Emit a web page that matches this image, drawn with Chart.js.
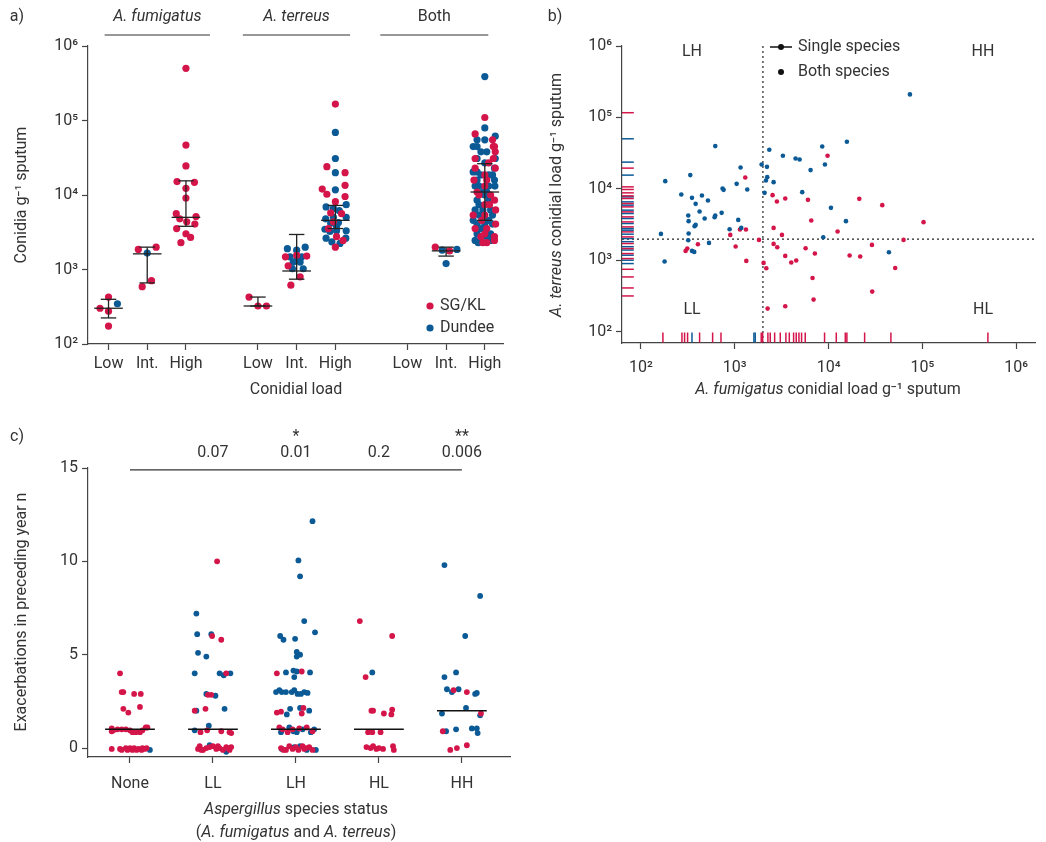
<!DOCTYPE html>
<html><head><meta charset="utf-8">
<script src="https://cdn.jsdelivr.net/npm/chart.js@4.4.1/dist/chart.umd.min.js"></script>
<style>
body{margin:0;background:#fff;width:1046px;height:842px;position:relative;overflow:hidden}
canvas{position:absolute}
</style></head><body>
<canvas id="ca" width="520" height="400" style="left:0;top:0"></canvas>
<canvas id="cb" width="506" height="400" style="left:540px;top:0"></canvas>
<canvas id="cc" width="520" height="422" style="left:0;top:420px"></canvas>
<script>
// ---------- shared ----------
const RED = '#d4154a', BLUE = '#0b5a96', INK = '#333';
const FONT = 'Roboto';
const SUP = ['⁰','¹','²','³','⁴','⁵','⁶'];

// ---------- panel a data (log10 conidia g-1, [dx, exponent]) ----------
const aPos = [1, 2, 3, 4.86, 5.86, 6.86, 8.72, 9.72, 10.72];
const aTickLabels = ['Low','Int.','High','Low','Int.','High','Low','Int.','High'];
const aHeaders = ['A. fumigatus', 'A. terreus', 'Both'];
const aHeaderSpan = [[0.9, 3.62], [4.47, 7.24], [8.02, 10.81]];
const aRed = [
  [[0,2.63],[-0.22,2.48],[0,2.44],[0,2.24]],
  [[-0.23,3.27],[0.23,3.30],[-0.13,2.77],[0.11,2.85]],
  [[0,5.70],[0,4.67],[0,4.39],[-0.23,4.18],[0.22,4.17],[0,4.09],[0,3.96],[-0.25,3.75],[-0.16,3.68],
   [0.02,3.64],[0.26,3.71],[0.23,3.61],[-0.24,3.55],[0,3.48],[0.12,3.43],[-0.13,3.36]],
  [[-0.23,2.63],[0,2.51],[0.22,2.51]],
  [[-0.29,3.17],[0.26,3.18],[-0.22,3.05],[0.09,2.90],[-0.15,2.79],[0,3.19]],
  [[0,5.22],[-0.22,4.38],[0.25,4.30],[0.25,4.13],[-0.34,4.08],[-0.22,4.01],[0.25,3.98],[0,3.91],
   [-0.12,3.76],[0.16,3.75],[-0.18,3.55],[0.03,3.44],[0,3.30],[0.2,3.39],[-0.05,3.64]],
  [],
  [[-0.28,3.30],[0.09,3.25]],
  [[0,5.04],[-0.25,4.82],[0.2,4.74],[0.25,4.65],[0.22,4.65],[0.27,4.58],[-0.25,4.49],[0.22,4.49],[0.1,4.43],
   [-0.25,4.36],[0.27,4.36],[0,4.27],[0.05,4.20],[-0.28,4.20],[0,4.12],[-0.2,4.04],[0.15,4.00],[-0.15,4.00],
   [0.25,3.93],[0,3.87],[0.12,3.87],[0.28,3.80],[0,3.73],[-0.3,3.73],[-0.08,3.66],[0.28,3.61],[-0.25,3.55],
   [0.05,3.55],[0,3.48],[-0.1,3.44],[0.25,3.44],[0.25,3.39],[-0.05,3.36],[0.05,3.36]]
];
const aBlue = [
  [[0.23,2.54]],
  [[0,3.22]],
  [],
  [],
  [[-0.24,3.28],[0,3.26],[0.22,3.30],[-0.17,3.17],[0.13,3.17],[-0.09,3.10],[0.09,3.10],[-0.11,3.01],[0.17,3.01],[0,3.12]],
  [[0,4.84],[0,4.49],[0,4.30],[0,4.07],[-0.24,3.84],[-0.05,3.82],[0.28,3.87],[0.1,3.79],[-0.25,3.68],[-0.05,3.70],
   [0.28,3.70],[-0.12,3.62],[0.08,3.63],[-0.27,3.54],[-0.14,3.51],[0.03,3.52],[0.28,3.52],[-0.24,3.42],[-0.09,3.37],
   [0.12,3.35],[0.27,3.42],[0.03,3.58]],
  [],
  [[-0.1,3.26],[0.28,3.27],[0,3.08]],
  [[0,5.59],[0,4.90],[0.27,4.79],[-0.2,4.74],[0,4.74],[-0.3,4.65],[-0.2,4.65],[-0.1,4.58],[0.05,4.58],[-0.2,4.49],
   [0.27,4.49],[0,4.43],[0.25,4.36],[-0.3,4.31],[-0.2,4.31],[-0.1,4.27],[0.1,4.27],[0.2,4.27],[-0.2,4.20],[0.25,4.20],
   [-0.25,4.12],[-0.15,4.12],[0.1,4.12],[0.26,4.12],[-0.05,4.04],[0.05,4.04],[0,4.00],[-0.2,3.93],[0.1,3.93],[-0.15,3.87],
   [-0.25,3.80],[-0.05,3.80],[0.15,3.80],[-0.15,3.73],[0.2,3.73],[-0.3,3.66],[0.1,3.66],[-0.2,3.61],[0,3.61],[0.2,3.61],
   [-0.1,3.55],[-0.2,3.48],[0.15,3.48],[0.05,3.44],[-0.25,3.39],[0.15,3.39],[-0.17,3.36]]
];
const aMed = [2.48, 3.21, 3.70, 2.51, 2.98, 3.66, null, 3.25, 4.04];
const aLo  = [2.35, 2.82, 3.58, 2.51, 2.87, 3.55, null, 3.18, 3.66];
const aHi  = [2.60, 3.30, 4.19, 2.63, 3.47, 3.86, null, 3.30, 4.42];

// ---------- panel b data (log10 conidial load) ----------
const bBlueFum = [2.213,2.259,2.252,2.430,2.526,2.544,2.583,2.504,2.508,2.508,2.504,2.625,2.650,2.679,2.714,2.572,2.583,2.544,2.568,
  2.792,2.870,2.881,2.785,2.792,2.860,2.725,2.945,3.020,3.037,3.062,3.133,3.069,3.286,3.343,3.346,3.332,3.318,3.368,3.414,
  3.513,3.648,3.691,3.719,3.808,3.932,3.961,4.025,4.195,4.185,3.943,4.643,4.867];
const bBlueTer = [3.372,4.110,2.985,3.923,4.194,3.876,3.792,3.629,3.550,3.377,3.284,3.685,3.909,3.587,3.839,3.480,3.498,3.134,3.120,
  4.600,4.007,3.988,3.606,3.629,3.666,3.246,3.438,4.072,3.568,4.301,3.993,3.456,4.343,4.310,4.166,4.119,3.946,4.548,4.096,
  4.464,4.427,4.413,3.956,4.264,4.595,4.343,3.736,4.660,3.550,3.326,3.116,5.323];
const bRedFum = [3.112,3.403,3.449,3.538,3.780,3.989,3.815,3.414,3.503,3.119,3.055,2.952,2.607,2.494,2.476,3.009,3.258,3.414,3.453,
  3.755,3.854,3.538,3.655,3.602,3.123,3.307,3.336,3.829,3.840,3.350,3.538,4.327,4.572,5.012,4.096,4.799,4.462,4.224,4.337,4.710,4.465];
const bRedTer = [4.161,3.914,3.825,3.867,3.848,4.464,3.559,3.456,3.358,3.433,3.433,3.358,3.228,3.167,3.134,3.195,3.288,3.232,3.186,
  3.172,3.097,3.064,2.999,2.971,2.994,2.966,2.892,2.756,2.453,2.327,2.359,3.862,3.774,3.536,3.405,3.288,3.218,3.069,3.055,2.896,2.565];
const bRugTerRed = [5.067,4.292,4.030,3.993,3.946,3.904,3.867,3.797,3.750,3.680,3.610,3.540,3.470,3.400,3.330,3.237,3.167,3.097,3.027,2.877,2.770,2.616,2.504];
const bRugTerBlue = [4.702,4.376,4.194,3.890,3.820,3.774,3.704,3.657,3.587,3.517,3.447,3.424,3.368,3.307,3.263,3.193,3.146,3.074,3.004,2.957];
const bRugFumRed = [2.234,2.437,2.465,2.497,2.625,2.764,2.853,3.282,3.297,3.353,3.378,3.425,3.485,3.545,3.581,3.627,3.655,3.684,3.712,3.751,3.957,4.082,4.178,4.195,4.384,4.664,5.698];
const bRugFumBlue = [2.544,3.204,3.218];
const bCut = 3.3;
const bQuad = [['LH',692,52],['HH',983,52],['LL',692,310],['HL',983,310]];

// ---------- panel c data (exacerbations, [dx, n]) ----------
const cCats = ['None','LL','LH','HL','HH'];
const cRed = [
  [[-0.12,4.0],[-0.10,3.0],[-0.08,3.0],[0.05,2.9],[0.13,2.9],[-0.08,2.1],[0.12,2.2],[-0.02,1.9],
   [-0.22,1.05],[-0.22,0.9],[-0.15,1.0],[-0.1,1.0],[-0.05,1.0],[0,0.95],[0.03,0.85],[0.07,0.85],[0.12,0.85],
   [0.15,0.95],[0.19,1.1],[0.21,1.1],[-0.2,0.95],[-0.22,-0.05],[-0.12,-0.05],[-0.1,-0.1],[-0.05,0],[0,0],
   [0.03,-0.1],[0.05,0],[0.08,-0.1],[0.1,-0.05],[0.14,-0.1],[0.18,-0.05],[0.2,0],[-0.03,-0.1],[0.15,0]],
  [[0.05,10],[-0.01,6.0],[0.1,5.8],[0.16,4.0],[-0.06,2.85],[-0.02,2.85],[-0.09,2.1],[-0.22,2.0],
   [-0.15,0.85],[-0.07,0.95],[0.1,0.9],[0.2,0.85],[0.22,0.8],[-0.18,-0.05],[-0.16,0.1],[-0.12,-0.1],[-0.08,0],
   [-0.04,0.05],[0,0.1],[0.04,-0.05],[0.08,0],[0.12,-0.1],[0.16,0.05],[0.2,-0.1],[0.22,0.05],[-0.14,-0.1],[0.06,0.1],[0.18,0]],
  [[-0.23,4.0],[0.07,4.1],[-0.23,1.9],[-0.18,1.95],[0.07,1.85],[0.09,2.15],[-0.2,1.1],[-0.16,1.0],[-0.1,0.85],
   [-0.04,1.0],[0.04,1.05],[0.13,1.1],[0.2,0.9],[-0.18,0],[-0.12,-0.1],[-0.08,0.1],[-0.04,-0.05],[0,0.05],
   [0.03,-0.1],[0.08,0.1],[0.12,0],[0.16,0.05],[0.2,-0.1],[-0.15,-0.1],[0.1,-0.05]],
  [[-0.23,6.8],[0.16,6.0],[-0.16,3.8],[-0.09,2.0],[-0.07,2.0],[0.06,1.85],[0.16,2.05],[0.15,1.8],
   [-0.13,0.85],[-0.08,0.85],[0.02,0.85],[-0.15,0.05],[-0.1,0],[-0.07,0.1],[-0.03,-0.05],[0,0],[0.05,-0.05],[0.17,0.1],[0.18,-0.1]],
  [[-0.1,3.1],[0.06,3.0],[0.23,1.85],[-0.23,0.9],[-0.14,-0.1],[-0.06,0],[0.06,0.15]]
];
const cBlue = [
  [[0.24,-0.1]],
  [[-0.2,7.2],[-0.19,6.1],[-0.02,6.1],[-0.18,5.1],[-0.08,4.9],[-0.22,4.0],[0.08,4.0],[0.13,3.9],[0.21,4.0],
   [-0.08,2.9],[0.03,2.8],[0.14,2.1],[-0.2,2.0],[-0.22,0.95],[-0.05,1.2],[-0.04,0.15],[0.16,-0.2]],
  [[0.2,12.15],[0.03,10.05],[0.05,9.2],[0.1,6.8],[0.23,6.2],[-0.19,6.0],[-0.15,5.8],[-0.01,5.85],[0.01,5.15],
   [0.01,4.9],[0.05,5.0],[-0.12,4.05],[-0.03,4.15],[0.01,4.1],[-0.02,3.8],[0.17,4.05],[-0.24,3.0],[-0.2,3.1],
   [-0.17,3.0],[-0.12,3.0],[-0.05,3.0],[-0.02,3.1],[0.02,2.9],[0.06,2.9],[0.1,3.0],[0.14,2.95],[-0.07,2.1],
   [0.05,2.15],[0.16,2.0],[-0.11,1.8],[-0.18,0.85],[-0.08,1.1],[-0.03,0.9],[0.01,0.85],[0.08,1.0],[0.18,0.85],
   [0.22,1.0],[-0.17,-0.05],[0.05,0.1],[0.13,-0.1],[0.24,-0.1],[-0.02,0.05]],
  [[-0.08,4.05]],
  [[-0.21,9.8],[0.22,8.15],[0.04,6.0],[-0.21,3.8],[-0.07,4.05],[-0.18,3.15],[-0.12,3.0],[-0.04,3.15],[0.16,2.9],
   [0.18,2.95],[0.05,2.15],[-0.24,1.85],[0.22,1.75],[-0.19,0.9],[-0.07,1.0],[0.12,1.05],[0.18,1.05],[0.19,0.8]]
];
const cMedian = [1, 1, 1, 1, 2];
const cPvals = ['', '0.07', '0.01', '0.2', '0.006'];
const cStars = ['', '', '*', '', '**'];

// ---------- helpers ----------
function rich(ctx, parts, x, y, rot, size) {
  size = size || 16;
  ctx.save();
  ctx.translate(x, y);
  if (rot) ctx.rotate(-Math.PI / 2);
  ctx.fillStyle = INK;
  ctx.textBaseline = 'middle';
  ctx.textAlign = 'left';
  let w = 0;
  parts.forEach(p => { ctx.font = (p[1] ? 'italic ' : '') + size + 'px ' + FONT; w += ctx.measureText(p[0]).width; });
  let cx = -w / 2;
  parts.forEach(p => {
    ctx.font = (p[1] ? 'italic ' : '') + size + 'px ' + FONT;
    ctx.fillText(p[0], cx, 0);
    cx += ctx.measureText(p[0]).width;
  });
  ctx.restore();
}
function pts(groups, pos) {
  const out = [];
  groups.forEach((g, i) => g.forEach(p => out.push({ x: pos[i] + p[0], y: p[1] })));
  return out;
}
function axisBase(min, max, ticks, label, pad) {
  return {
    type: 'linear', min, max,
    afterBuildTicks: s => { s.ticks = ticks.map(v => ({ value: v })); },
    ticks: { color: INK, font: { family: FONT, size: 16 }, callback: (v, i) => label(v, i), autoSkip: false, maxRotation: 0, padding: pad || 4 },
    grid: { drawOnChartArea: false, color: '#444', tickLength: 6, tickWidth: 1.2 },
    border: { color: '#444', width: 1.2 }
  };
}
const powLabel = v => '10' + SUP[Math.round(v)];
const baseOpts = { responsive: false, animation: false, events: [],
  plugins: { legend: { display: false }, tooltip: { enabled: false } } };

// ---------- panel a ----------
const aX = axisBase(0.47, 11.19, aPos, (v, i) => aTickLabels[i]);
aX.afterFit = s => { s.height = 56; };
const aY = axisBase(2, 6, [2, 3, 4, 5, 6], powLabel);
aY.afterFit = s => { s.width = 88; };

const aExtras = {
  id: 'aExtras',
  afterDatasetsDraw(chart) {
    const { ctx, scales: { x, y } } = chart;
    ctx.save();
    ctx.strokeStyle = '#222';
    ctx.lineWidth = 1.3;
    aPos.forEach((p, i) => {
      if (aMed[i] === null) return;
      const px = x.getPixelForValue(p);
      const line = (a, b, yy) => { ctx.beginPath(); ctx.moveTo(x.getPixelForValue(p - a), y.getPixelForValue(yy)); ctx.lineTo(x.getPixelForValue(p + b), y.getPixelForValue(yy)); ctx.stroke(); };
      ctx.beginPath(); ctx.moveTo(px, y.getPixelForValue(aLo[i])); ctx.lineTo(px, y.getPixelForValue(aHi[i])); ctx.stroke();
      line(0.37, 0.37, aMed[i]);
      line(0.2, 0.2, aLo[i]);
      line(0.2, 0.2, aHi[i]);
    });
    // group headers
    aHeaders.forEach((h, i) => {
      const x0 = x.getPixelForValue(aHeaderSpan[i][0]), x1 = x.getPixelForValue(aHeaderSpan[i][1]);
      ctx.strokeStyle = '#333'; ctx.lineWidth = 1.2;
      ctx.beginPath(); ctx.moveTo(x0, 35); ctx.lineTo(x1, 35); ctx.stroke();
      rich(ctx, [[h, i < 2]], (x0 + x1) / 2, 17);
    });
    // legend
    [['SG/KL', RED, 306], ['Dundee', BLUE, 328]].forEach(l => {
      ctx.fillStyle = l[1];
      ctx.beginPath(); ctx.arc(430, l[2], 3.6, 0, Math.PI * 2); ctx.fill();
      ctx.fillStyle = INK; ctx.font = '16px ' + FONT; ctx.textBaseline = 'middle'; ctx.textAlign = 'left';
      ctx.fillText(l[0], 440, l[2]);
    });
    rich(ctx, [['a)']], 17, 17);
    rich(ctx, [['Conidia g⁻¹ sputum']], 22, 195, true);
    rich(ctx, [['Conidial load']], 296, 390);
    ctx.restore();
  }
};

new Chart(document.getElementById('ca'), {
  type: 'scatter',
  data: { datasets: [
    { data: pts(aRed, aPos), backgroundColor: RED, borderWidth: 0, pointRadius: 3.6 },
    { data: pts(aBlue, aPos), backgroundColor: BLUE, borderWidth: 0, pointRadius: 3.6 }
  ] },
  options: { ...baseOpts, layout: { padding: { top: 46, right: 17, bottom: 0, left: 0 } },
    scales: { x: aX, y: aY } },
  plugins: [aExtras]
});

// ---------- panel b ----------
const bX = axisBase(1.798, 6.2, [2, 3, 4, 5, 6], powLabel, 9);
bX.afterFit = s => { s.height = 57; };
const bY = axisBase(1.846, 6, [2, 3, 4, 5, 6], powLabel);
bY.afterFit = s => { s.width = 82; };

const bExtras = {
  id: 'bExtras',
  beforeDatasetsDraw(chart) {
    const { ctx, chartArea: a, scales: { x, y } } = chart;
    ctx.save();
    ctx.strokeStyle = '#222'; ctx.lineWidth = 1.2; ctx.setLineDash([2, 3]);
    const vx = x.getPixelForValue(bCut), hy = y.getPixelForValue(bCut);
    ctx.beginPath(); ctx.moveTo(vx, a.bottom); ctx.lineTo(vx, a.top); ctx.stroke();
    ctx.beginPath(); ctx.moveTo(a.left, hy); ctx.lineTo(a.right, hy); ctx.stroke();
    ctx.restore();
  },
  afterDatasetsDraw(chart) {
    const { ctx } = chart;
    ctx.save();
    bQuad.forEach(q => rich(ctx, [[q[0]]], q[1] - 540, q[2]));
    ctx.strokeStyle = '#111'; ctx.fillStyle = '#111'; ctx.lineWidth = 1.5;
    ctx.beginPath(); ctx.moveTo(770 - 540, 47); ctx.lineTo(792 - 540, 47); ctx.stroke();
    ctx.beginPath(); ctx.arc(781 - 540, 47, 3, 0, Math.PI * 2); ctx.fill();
    ctx.beginPath(); ctx.arc(781 - 540, 72, 3, 0, Math.PI * 2); ctx.fill();
    ctx.font = '16px ' + FONT; ctx.textAlign = 'left'; ctx.textBaseline = 'middle'; ctx.fillStyle = INK;
    ctx.fillText('Single species', 798 - 540, 47);
    ctx.fillText('Both species', 798 - 540, 72);
    rich(ctx, [['b)']], 555 - 540, 17);
    rich(ctx, [['A. terreus', true], [' conidial load g⁻¹ sputum']], 557 - 540, 195, true);
    rich(ctx, [['A. fumigatus', true], [' conidial load g⁻¹ sputum']], 828 - 540, 390);
    ctx.restore();
  }
};

const zip = (xs, ys) => xs.map((v, i) => ({ x: v, y: ys[i] }));
new Chart(document.getElementById('cb'), {
  type: 'scatter',
  data: { datasets: [
    { data: bRugTerRed.map(v => ({ x: 1.86, y: v })), pointStyle: 'line', borderColor: RED, borderWidth: 1.5, pointRadius: 6 },
    { data: bRugTerBlue.map(v => ({ x: 1.86, y: v })), pointStyle: 'line', borderColor: BLUE, borderWidth: 1.5, pointRadius: 6 },
    { data: bRugFumRed.map(v => ({ x: v, y: 1.923 })), pointStyle: 'line', rotation: 90, borderColor: RED, borderWidth: 1.5, pointRadius: 5 },
    { data: bRugFumBlue.map(v => ({ x: v, y: 1.923 })), pointStyle: 'line', rotation: 90, borderColor: BLUE, borderWidth: 1.5, pointRadius: 5 },
    { data: zip(bBlueFum, bBlueTer), backgroundColor: BLUE, borderWidth: 0, pointRadius: 2.3 },
    { data: zip(bRedFum, bRedTer), backgroundColor: RED, borderWidth: 0, pointRadius: 2.3 }
  ] },
  options: { ...baseOpts, layout: { padding: { top: 46, right: 11, bottom: 0, left: 0 } },
    scales: { x: bX, y: bY } },
  plugins: [bExtras]
});

// ---------- panel c ----------
const cPos = [1, 2, 3, 4, 5];
const cX = axisBase(0.494, 5.58, cPos, (v, i) => cCats[i], 11);
cX.afterFit = s => { s.height = 85; };
const cY = axisBase(-0.48, 15, [0, 5, 10, 15], v => String(v));
cY.afterFit = s => { s.width = 88; };

const cExtras = {
  id: 'cExtras',
  afterDatasetsDraw(chart) {
    const { ctx, scales: { x, y } } = chart;
    ctx.save();
    ctx.strokeStyle = '#111'; ctx.lineWidth = 1.5;
    cPos.forEach((p, i) => {
      const yy = y.getPixelForValue(cMedian[i]);
      ctx.beginPath(); ctx.moveTo(x.getPixelForValue(p - 0.3), yy); ctx.lineTo(x.getPixelForValue(p + 0.3), yy); ctx.stroke();
    });
    ctx.strokeStyle = '#333'; ctx.lineWidth = 1.2;
    const by = y.getPixelForValue(14.9);
    ctx.beginPath(); ctx.moveTo(x.getPixelForValue(1), by); ctx.lineTo(x.getPixelForValue(5), by); ctx.stroke();
    cPos.forEach((p, i) => {
      if (cPvals[i]) rich(ctx, [[cPvals[i]]], x.getPixelForValue(p), 453 - 420);
      if (cStars[i]) rich(ctx, [[cStars[i]]], x.getPixelForValue(p), 437 - 420);
    });
    rich(ctx, [['c)']], 17, 17);
    rich(ctx, [['Exacerbations in preceding year n']], 22, 612 - 420, true);
    rich(ctx, [['Aspergillus', true], [' species status']], 296, 810 - 420);
    rich(ctx, [['('], ['A. fumigatus', true], [' and '], ['A. terreus', true], [')']], 296, 833 - 420);
    ctx.restore();
  }
};

new Chart(document.getElementById('cc'), {
  type: 'scatter',
  data: { datasets: [
    { data: pts(cRed, cPos), backgroundColor: RED, borderWidth: 0, pointRadius: 2.9 },
    { data: pts(cBlue, cPos), backgroundColor: BLUE, borderWidth: 0, pointRadius: 2.9 }
  ] },
  options: { ...baseOpts, layout: { padding: { top: 48, right: 10, bottom: 0, left: 0 } },
    scales: { x: cX, y: cY } },
  plugins: [cExtras]
});
</script>
</body></html>
